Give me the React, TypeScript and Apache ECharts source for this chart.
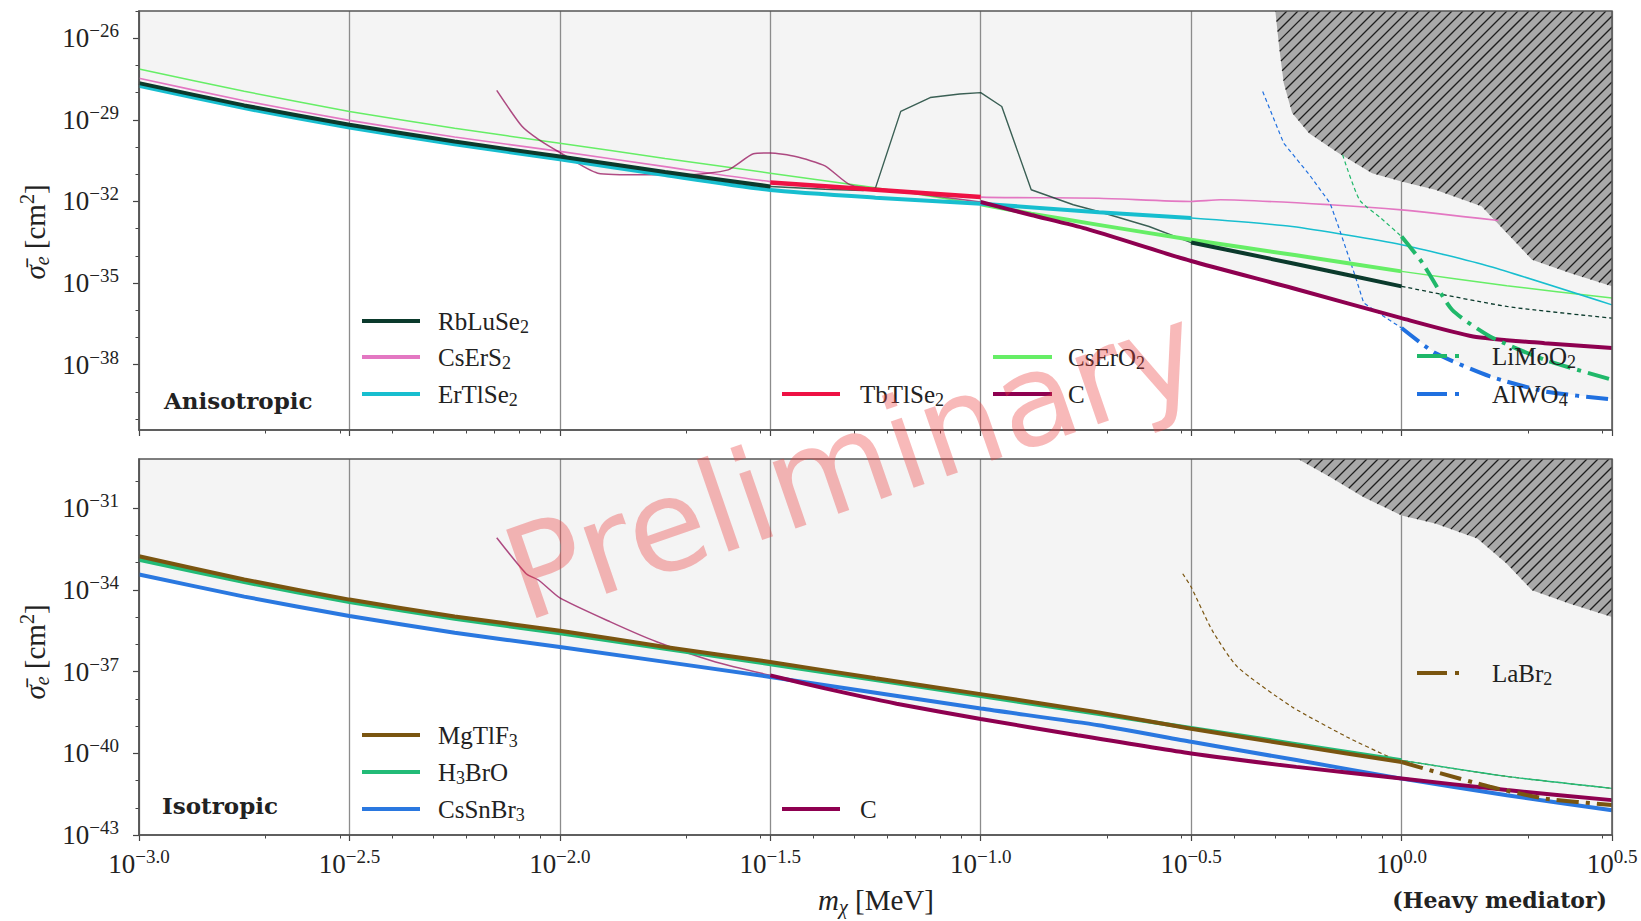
import React, { useEffect, useRef } from "react";
import * as echarts from "echarts";

type Pt = [number, number];

// All values are base-10 exponents: x = log10(m_chi / MeV), y = log10(sigma_e / cm^2)
const xMin = -3;
const xMax = 0.5;
const topYMin = -40.4;
const topYMax = -25;
const topYLabels = [-26, -29, -32, -35, -38];
const bottomYMin = -43;
const bottomYMax = -29.2;
const bottomYLabels = [-31, -34, -37, -40, -43];

// ---------------- Anisotropic panel ----------------
const rbLuSe2Thick: Pt[] = [[-3, -27.65], [-2.75, -28.47], [-2.5, -29.18], [-2.25, -29.8], [-2, -30.35], [-1.75, -30.92], [-1.5, -31.45]];
const rbLuSe2Thick2: Pt[] = [[-0.5, -33.51], [-0.26, -34.27], [0, -35.12]];
const rbLuSe2Thin: Pt[] = [[-1.5, -31.45], [-1.37, -31.55], [-1.28, -31.6], [-1.25, -31.5], [-1.19, -28.69], [-1.12, -28.18], [-1.05, -28.05], [-1, -28], [-0.95, -28.51], [-0.88, -31.57], [-0.78, -32.12], [-0.72, -32.37], [-0.6, -32.92], [-0.5, -33.51], [-0.26, -34.27], [0, -35.12]];
const rbLuSe2Tail: Pt[] = [[0, -35.12], [0.25, -35.86], [0.5, -36.29]];
const csErS2: Pt[] = [[-3, -27.47], [-2.75, -28.3], [-2.5, -29.02], [-2.25, -29.63], [-2, -30.16], [-1.75, -30.72], [-1.5, -31.27], [-1.25, -31.6], [-1, -31.84], [-0.72, -31.88], [-0.5, -32], [-0.43, -31.94], [-0.17, -32.12], [0, -32.31], [0.23, -32.7]];
const erTlSe2Thick: Pt[] = [[-3, -27.75], [-2.75, -28.57], [-2.5, -29.28], [-2.25, -29.9], [-2, -30.45], [-1.75, -31.03], [-1.5, -31.58], [-1.25, -31.86], [-1, -32.08], [-0.72, -32.4], [-0.5, -32.61]];
const erTlSe2Thin: Pt[] = [[-0.5, -32.61], [-0.26, -32.92], [0, -33.59], [0.21, -34.39], [0.5, -35.8]];
const tbTlSe2: Pt[] = [[-1.5, -31.3], [-1.25, -31.57], [-1, -31.84]];
const csErO2Thin: Pt[] = [[-3, -27.13], [-2.75, -27.95], [-2.5, -28.69], [-2.25, -29.31], [-2, -29.86], [-1.75, -30.42], [-1.5, -30.96], [-1.25, -31.5], [-1, -32.1]];
const csErO2Thick: Pt[] = [[-1, -32.1], [-0.88, -32.45], [-0.72, -32.86], [-0.5, -33.41], [-0.25, -33.98], [0, -34.57]];
const csErO2Tail: Pt[] = [[0, -34.57], [0.25, -35.1], [0.5, -35.55]];
const cTopThin: Pt[] = [[-2.15, -27.92], [-2.09, -29.24], [-2.05, -29.73], [-2, -30.2], [-1.91, -30.96], [-1.8, -31.02], [-1.7, -31.02], [-1.6, -30.84], [-1.54, -30.25], [-1.5, -30.22], [-1.44, -30.35], [-1.37, -30.69], [-1.31, -31.39], [-1.2, -31.62], [-1, -32.02]];
const cTopThick: Pt[] = [[-1, -32.02], [-0.88, -32.5], [-0.75, -33.0], [-0.5, -34.19], [-0.26, -35.18], [0, -36.29], [0.17, -36.96], [0.34, -37.21], [0.5, -37.39]];
const liMoO2Thin: Pt[] = [[-0.14, -30.29], [-0.1, -31.94], [-0.05, -32.6], [0, -33.29]];
const liMoO2Thick: Pt[] = [[0, -33.29], [0.05, -34.27], [0.12, -35.98], [0.21, -36.96], [0.34, -37.82], [0.5, -38.55]];
const alWO4Thin: Pt[] = [[-0.33, -27.96], [-0.28, -29.86], [-0.22, -31.0], [-0.17, -32.06], [-0.15, -32.92], [-0.11, -34.75], [-0.09, -35.73], [-0.03, -36.35], [0, -36.65]];
const alWO4Thick: Pt[] = [[0, -36.65], [0.08, -37.57], [0.21, -38.43], [0.34, -38.98], [0.5, -39.28]];
const topExcludedEdge: Pt[] = [[-0.3, -25], [-0.29, -26.43], [-0.28, -27.65], [-0.26, -28.75], [-0.22, -29.49], [-0.15, -30.22], [-0.07, -30.96], [0, -31.27], [0.08, -31.57], [0.19, -32.18], [0.25, -33.16], [0.31, -34.14], [0.4, -34.63], [0.5, -35.12]];

// ---------------- Isotropic panel ----------------
const mgTlF3: Pt[] = [[-3, -32.77], [-2.75, -33.62], [-2.5, -34.36], [-2.25, -34.98], [-2, -35.5], [-1.75, -36.1], [-1.5, -36.65], [-1.25, -37.25], [-1, -37.83], [-0.72, -38.5], [-0.5, -39.1], [-0.25, -39.72], [0, -40.32]];
const h3BrO: Pt[] = [[-3, -32.9], [-2.75, -33.72], [-2.5, -34.45], [-2.25, -35.06], [-2, -35.6], [-1.5, -36.73], [-1, -37.9], [-0.5, -39.07], [0, -40.26]];
const h3BrOTail: Pt[] = [[0, -40.26], [0.25, -40.85], [0.5, -41.29]];
const csSnBr3: Pt[] = [[-3, -33.44], [-2.75, -34.25], [-2.5, -34.96], [-2.25, -35.58], [-2, -36.1], [-1.5, -37.2], [-1, -38.36], [-0.72, -38.97], [-0.5, -39.58], [-0.25, -40.25], [0, -40.93], [0.25, -41.54], [0.5, -42.09]];
const cBottomThin: Pt[] = [[-2.15, -32.09], [-2.08, -33.41], [-2.05, -33.65], [-2, -34.3], [-1.88, -35.18], [-1.77, -35.91], [-1.63, -36.65], [-1.5, -37.14]];
const cBottomThick: Pt[] = [[-1.5, -37.14], [-1.37, -37.62], [-1.2, -38.18], [-1, -38.74], [-0.77, -39.34], [-0.5, -40.01], [-0.25, -40.5], [0, -40.93], [0.25, -41.35], [0.5, -41.72]];
const laBr2Thin: Pt[] = [[-0.52, -33.41], [-0.5, -33.9], [-0.45, -35.49], [-0.39, -36.83], [-0.26, -38.3], [-0.13, -39.4], [-0.03, -40.13], [0, -40.26], [0.25, -40.85], [0.5, -41.29]];
const laBr2Thick: Pt[] = [[0, -40.32], [0.08, -40.68], [0.21, -41.23], [0.34, -41.66], [0.5, -41.9]];
const bottomExcludedEdge: Pt[] = [[-0.246, -29.2], [-0.17, -29.86], [-0.09, -30.6], [0, -31.27], [0.08, -31.57], [0.18, -32.12], [0.25, -33.04], [0.31, -34.02], [0.4, -34.51], [0.5, -35.0]];

// ---------------- styling ----------------
const SERIF = '"Liberation Serif", "DejaVu Serif", serif';
const BOLD_SERIF = '"DejaVu Serif", "Liberation Serif", serif';
const INK = "#222";
const COL = {
  rb: "#0b3a2c",
  cs: "#e377c2",
  er: "#17becf",
  tb: "#ee1144",
  cso: "#66ee66",
  c: "#8e0050",
  li: "#20b86a",
  al: "#2070e0",
  mg: "#7a5510",
  h3: "#22bb77",
  csn: "#2a78e0",
};
const DASHDOT = [22, 7, 4, 7];
const THINDASH = [4, 3];

const xMinorTicks: number[] = [];
for (let n = -3; n <= 0; n++) {
  for (let k = 2; k <= 9; k++) {
    const v = n + Math.log10(k);
    if (v <= xMax) xMinorTicks.push(v);
  }
}
const intRange = (a: number, b: number) => {
  const r: number[] = [];
  for (let v = Math.ceil(a); v <= Math.floor(b); v++) r.push(v);
  return r;
};

const tickRich = {
  b: { fontFamily: SERIF, fontSize: 27, color: INK },
  s: { fontFamily: SERIF, fontSize: 19, color: INK, padding: [0, 0, 15, 0] },
};
const expLabel = (v: number, digits: number) =>
  `{b|10}{s|${v.toFixed(digits).replace("-", "\u2212")}}`;

const textRich = (size: number) => {
  const small = Math.round(size * 0.7);
  return {
    n: { fontFamily: SERIF, fontSize: size, fill: INK, color: INK },
    i: { fontFamily: SERIF, fontSize: size, fontStyle: "italic", fill: INK, color: INK },
    sub: { fontFamily: SERIF, fontSize: small, fill: INK, color: INK, padding: [Math.round(size * 0.45), 0, 0, 0] },
    isub: { fontFamily: SERIF, fontSize: small, fontStyle: "italic", fill: INK, color: INK, padding: [Math.round(size * 0.45), 0, 0, 0] },
    sup: { fontFamily: SERIF, fontSize: small, fill: INK, color: INK, padding: [0, 0, Math.round(size * 0.6), 0] },
  };
};

function interp(curve: Pt[], x: number): number | null {
  if (x < curve[0][0] - 1e-9 || x > curve[curve.length - 1][0] + 1e-9) return null;
  for (let i = 0; i < curve.length - 1; i++) {
    const [x0, y0] = curve[i];
    const [x1, y1] = curve[i + 1];
    if (x >= x0 - 1e-9 && x <= x1 + 1e-9) {
      if (x1 === x0) return Math.min(y0, y1);
      return y0 + ((y1 - y0) * (x - x0)) / (x1 - x0);
    }
  }
  return curve[curve.length - 1][1];
}

function lowerEnvelope(curves: Pt[][]): Pt[] {
  const xs = new Set<number>();
  curves.forEach((c) => c.forEach((p) => xs.add(p[0])));
  for (let i = 0; i <= 350; i++) xs.add(Math.round((xMin + i * 0.01) * 1000) / 1000);
  return [...xs]
    .sort((a, b) => a - b)
    .map((x) => {
      let m = Infinity;
      curves.forEach((c) => {
        const v = interp(c, x);
        if (v !== null && v < m) m = v;
      });
      return [x, m] as Pt;
    })
    .filter((p) => isFinite(p[1]));
}

function lineSeries(data: Pt[], color: string, width: number, xi: number, opts: any = {}) {
  return {
    type: "line",
    xAxisIndex: xi,
    yAxisIndex: xi,
    data,
    symbol: "none",
    showSymbol: false,
    silent: true,
    smooth: opts.smooth === undefined ? 0.2 : opts.smooth,
    z: opts.z ?? 3,
    lineStyle: { color, width, type: opts.dash ?? "solid", opacity: opts.opacity ?? 1 },
  };
}

function envelopeSeries(curves: Pt[][], xi: number) {
  return {
    type: "line",
    xAxisIndex: xi,
    yAxisIndex: xi,
    data: lowerEnvelope(curves),
    symbol: "none",
    showSymbol: false,
    silent: true,
    z: -1,
    lineStyle: { width: 0, opacity: 0 },
    areaStyle: { color: "#f4f4f4", opacity: 1, origin: "end" },
  };
}

function hatchSeries(edge: Pt[], xi: number, yTop: number) {
  return {
    type: "custom",
    xAxisIndex: xi,
    yAxisIndex: xi,
    silent: true,
    z: 1,
    clip: true,
    data: [[xMax, yTop]],
    renderItem: (_params: any, api: any) => {
      const poly: number[][] = edge.map((p) => api.coord(p));
      poly.push(api.coord([xMax, yTop]));
      const children: any[] = [
        { type: "polygon", shape: { points: poly }, style: { fill: "#a9a9a9", stroke: "none" } },
      ];
      const cs = poly.map((p) => p[0] + p[1]);
      const cMin = Math.min(...cs);
      const cMax = Math.max(...cs);
      const step = 11;
      for (let c = Math.ceil(cMin / step) * step; c <= cMax; c += step) {
        const hits: number[][] = [];
        for (let i = 0; i < poly.length; i++) {
          const p = poly[i];
          const q = poly[(i + 1) % poly.length];
          const fp = p[0] + p[1] - c;
          const fq = q[0] + q[1] - c;
          if ((fp < 0 && fq >= 0) || (fp >= 0 && fq < 0)) {
            const t = fp / (fp - fq);
            hits.push([p[0] + t * (q[0] - p[0]), p[1] + t * (q[1] - p[1])]);
          }
        }
        hits.sort((a, b) => a[0] - b[0]);
        for (let k = 0; k + 1 < hits.length; k += 2) {
          children.push({
            type: "line",
            shape: { x1: hits[k][0], y1: hits[k][1], x2: hits[k + 1][0], y2: hits[k + 1][1] },
            style: { stroke: "#1e1e1e", lineWidth: 1.3 },
          });
        }
      }
      return { type: "group", children };
    },
  };
}

const majorX = (gi: number, labels: boolean) => ({
  type: "value",
  gridIndex: gi,
  position: "bottom",
  min: xMin,
  max: xMax,
  interval: 0.5,
  axisLine: { show: true, onZero: false, lineStyle: { color: "#555", width: 1.5 } },
  axisTick: { show: true, length: 6, lineStyle: { color: "#444", width: 1.2 } },
  splitLine: { show: true, lineStyle: { color: "#8c8c8c", width: 1.3 } },
  axisLabel: labels
    ? { show: true, margin: 12, formatter: (v: number) => expLabel(v, 1), rich: tickRich, showMinLabel: true, showMaxLabel: true }
    : { show: false },
});
const minorX = (gi: number) => ({
  type: "value",
  gridIndex: gi,
  position: "bottom",
  min: xMin,
  max: xMax,
  axisLine: { show: false, onZero: false },
  axisTick: { show: true, customValues: xMinorTicks, length: 3.5, lineStyle: { color: "#444", width: 1 } },
  axisLabel: { show: false },
  splitLine: { show: false },
});
const majorY = (gi: number, min: number, max: number, labels: number[]) => ({
  type: "value",
  gridIndex: gi,
  position: "left",
  min,
  max,
  axisLine: { show: true, onZero: false, lineStyle: { color: "#555", width: 1.5 } },
  axisTick: { show: true, customValues: labels, length: 6, lineStyle: { color: "#444", width: 1.2 } },
  axisLabel: { show: true, customValues: labels, margin: 20, formatter: (v: number) => expLabel(v, 0), rich: tickRich },
  splitLine: { show: false },
});
const minorY = (gi: number, min: number, max: number) => ({
  type: "value",
  gridIndex: gi,
  position: "left",
  min,
  max,
  axisLine: { show: false, onZero: false },
  axisTick: { show: true, customValues: intRange(min, max), length: 3.5, lineStyle: { color: "#444", width: 1 } },
  axisLabel: { show: false },
  splitLine: { show: false },
});

function legendItem(x1: number, x2: number, tx: number, y: number, color: string, label: string, dash?: number[]) {
  return [
    { type: "line", z: 50, shape: { x1, y1: y, x2, y2: y }, style: { stroke: color, lineWidth: 4, lineDash: dash || null } },
    {
      type: "text",
      z: 50,
      x: tx,
      y,
      style: { text: label, rich: textRich(25), align: "left", textAlign: "left", verticalAlign: "middle", textVerticalAlign: "middle" },
    },
  ];
}

function buildOption() {
  const topCurves = [rbLuSe2Thick, rbLuSe2Thick2, rbLuSe2Thin, rbLuSe2Tail, csErS2, erTlSe2Thick, erTlSe2Thin, tbTlSe2, csErO2Thin, csErO2Thick, csErO2Tail, cTopThin, cTopThick, liMoO2Thin, liMoO2Thick, alWO4Thin, alWO4Thick];
  const bottomCurves = [mgTlF3, h3BrO, h3BrOTail, csSnBr3, cBottomThin, cBottomThick, laBr2Thin, laBr2Thick];

  const series: any[] = [
    envelopeSeries(topCurves, 0),
    hatchSeries(topExcludedEdge, 0, topYMax),
    lineSeries(csErO2Thin, COL.cso, 1.5, 0),
    lineSeries(csErO2Tail, COL.cso, 1.5, 0),
    lineSeries(csErS2, COL.cs, 1.6, 0),
    lineSeries(erTlSe2Thin, COL.er, 1.5, 0),
    lineSeries(rbLuSe2Thin, COL.rb, 1.4, 0, { smooth: false, opacity: 0.8 }),
    lineSeries(rbLuSe2Tail, COL.rb, 1.3, 0, { dash: THINDASH }),
    lineSeries(cTopThin, COL.c, 1.5, 0, { opacity: 0.7 }),
    lineSeries(liMoO2Thin, COL.li, 1.2, 0, { dash: THINDASH }),
    lineSeries(alWO4Thin, COL.al, 1.2, 0, { dash: THINDASH, smooth: false }),
    lineSeries(csErO2Thick, COL.cso, 4, 0, { z: 4 }),
    lineSeries(erTlSe2Thick, COL.er, 4, 0, { z: 4 }),
    lineSeries(rbLuSe2Thick, COL.rb, 4, 0, { z: 4 }),
    lineSeries(rbLuSe2Thick2, COL.rb, 4, 0, { z: 4 }),
    lineSeries(cTopThick, COL.c, 4, 0, { z: 4 }),
    lineSeries(tbTlSe2, COL.tb, 4.5, 0, { z: 5 }),
    lineSeries(liMoO2Thick, COL.li, 4, 0, { z: 5, dash: DASHDOT }),
    lineSeries(alWO4Thick, COL.al, 4, 0, { z: 5, dash: DASHDOT }),

    envelopeSeries(bottomCurves, 2),
    hatchSeries(bottomExcludedEdge, 2, bottomYMax),
    lineSeries(laBr2Thin, COL.mg, 1.2, 2, { dash: THINDASH }),
    lineSeries(h3BrOTail, COL.h3, 1.4, 2),
    lineSeries(cBottomThin, COL.c, 1.5, 2, { opacity: 0.7 }),
    lineSeries(h3BrO, COL.h3, 4, 2, { z: 4 }),
    lineSeries(csSnBr3, COL.csn, 4, 2, { z: 4 }),
    lineSeries(cBottomThick, COL.c, 4, 2, { z: 4 }),
    lineSeries(mgTlF3, COL.mg, 4, 2, { z: 5 }),
    lineSeries(laBr2Thick, COL.mg, 4, 2, { z: 5, dash: DASHDOT }),
  ];

  const yTitle = "{i|\u03c3\u0304}{isub|e}{n| [cm}{sup|2}{n|]}";
  const graphics: any[] = [
    ...legendItem(362, 420, 438, 321, COL.rb, "{n|RbLuSe}{sub|2}"),
    ...legendItem(362, 420, 438, 357, COL.cs, "{n|CsErS}{sub|2}"),
    ...legendItem(362, 420, 438, 394, COL.er, "{n|ErTlSe}{sub|2}"),
    ...legendItem(782, 840, 860, 394, COL.tb, "{n|TbTlSe}{sub|2}"),
    ...legendItem(993, 1052, 1068, 357, COL.cso, "{n|CsErO}{sub|2}"),
    ...legendItem(993, 1052, 1068, 394, COL.c, "{n|C}"),
    ...legendItem(1417, 1462, 1492, 356, COL.li, "{n|LiMoO}{sub|2}", [30, 8, 4, 8]),
    ...legendItem(1417, 1462, 1492, 394, COL.al, "{n|AlWO}{sub|4}", [30, 8, 4, 8]),
    ...legendItem(362, 420, 438, 735, COL.mg, "{n|MgTlF}{sub|3}"),
    ...legendItem(362, 420, 438, 772, COL.h3, "{n|H}{sub|3}{n|BrO}"),
    ...legendItem(362, 420, 438, 809, COL.csn, "{n|CsSnBr}{sub|3}"),
    ...legendItem(782, 840, 860, 809, COL.c, "{n|C}"),
    ...legendItem(1417, 1462, 1492, 673, COL.mg, "{n|LaBr}{sub|2}", [30, 8, 4, 8]),
    {
      type: "text", z: 50, x: 164, y: 400,
      style: { text: "Anisotropic", font: `bold 23px ${BOLD_SERIF}`, fill: INK, align: "left", textAlign: "left", verticalAlign: "middle", textVerticalAlign: "middle" },
    },
    {
      type: "text", z: 50, x: 162, y: 805,
      style: { text: "Isotropic", font: `bold 23px ${BOLD_SERIF}`, fill: INK, align: "left", textAlign: "left", verticalAlign: "middle", textVerticalAlign: "middle" },
    },
    {
      type: "text", z: 50, x: 1607, y: 900,
      style: { text: "(Heavy mediator)", font: `bold 22px ${BOLD_SERIF}`, fill: INK, align: "right", textAlign: "right", verticalAlign: "middle", textVerticalAlign: "middle" },
    },
    {
      type: "text", z: 50, x: 876, y: 900,
      style: { text: "{i|m}{isub|\u03c7}{n| [MeV]}", rich: textRich(29), align: "center", textAlign: "center", verticalAlign: "middle", textVerticalAlign: "middle" },
    },
    {
      type: "text", z: 50, x: 35, y: 232, rotation: Math.PI / 2,
      style: { text: yTitle, rich: textRich(29), align: "center", textAlign: "center", verticalAlign: "middle", textVerticalAlign: "middle" },
    },
    {
      type: "text", z: 50, x: 35, y: 652, rotation: Math.PI / 2,
      style: { text: yTitle, rich: textRich(29), align: "center", textAlign: "center", verticalAlign: "middle", textVerticalAlign: "middle" },
    },
    {
      type: "text", z: 100, x: 852, y: 462, rotation: (19 * Math.PI) / 180,
      style: { text: "Preliminary", font: `normal 128px "DejaVu Sans", sans-serif`, fill: "rgba(235, 60, 60, 0.36)", align: "center", textAlign: "center", verticalAlign: "middle", textVerticalAlign: "middle" },
    },
  ];

  return {
    animation: false,
    backgroundColor: "#ffffff",
    grid: [
      { left: 139, top: 11, width: 1473, height: 419, show: true, borderColor: "#555", borderWidth: 1.5, backgroundColor: "transparent", z: 10 },
      { left: 139, top: 459, width: 1473, height: 376, show: true, borderColor: "#555", borderWidth: 1.5, backgroundColor: "transparent", z: 10 },
    ],
    xAxis: [majorX(0, false), minorX(0), majorX(1, true), minorX(1)],
    yAxis: [
      majorY(0, topYMin, topYMax, topYLabels),
      minorY(0, topYMin, topYMax),
      majorY(1, bottomYMin, bottomYMax, bottomYLabels),
      minorY(1, bottomYMin, bottomYMax),
    ],
    series,
    graphic: { elements: graphics },
  };
}

export default function App() {
  const ref = useRef<HTMLDivElement>(null);
  useEffect(() => {
    if (!ref.current) return;
    const chart = echarts.init(ref.current, null, { renderer: "svg" });
    chart.setOption(buildOption() as any);
    return () => chart.dispose();
  }, []);
  return (
    <div
      ref={ref}
      style={{ position: "fixed", left: 0, top: 0, width: 1641, height: 921, background: "#fff" }}
    />
  );
}
